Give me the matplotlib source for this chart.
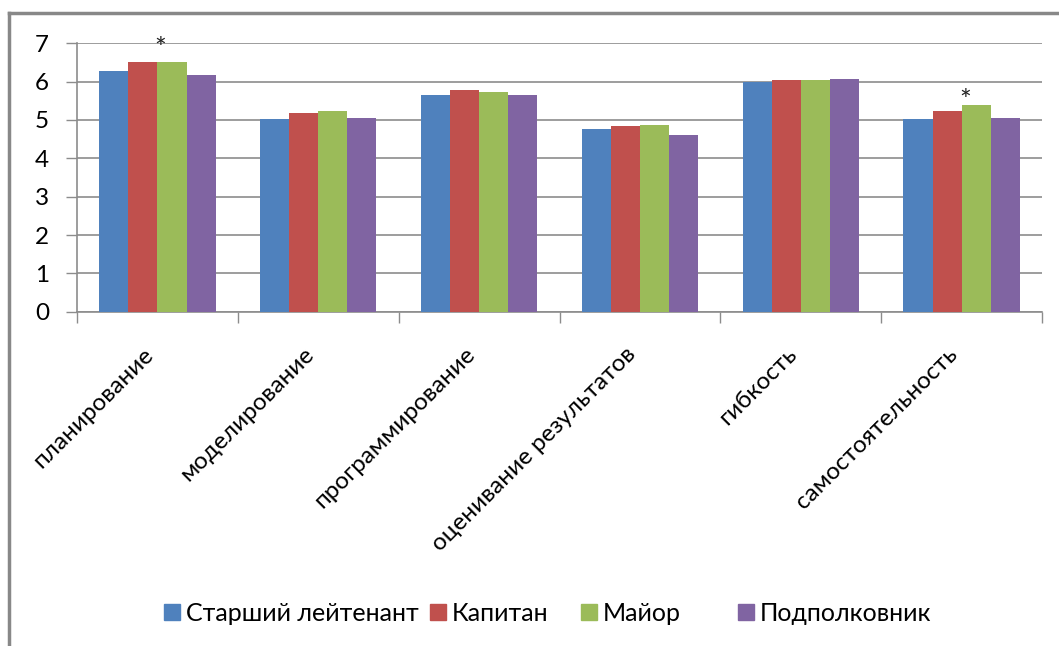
import matplotlib
matplotlib.use("Agg")
import matplotlib.pyplot as plt
from matplotlib.lines import Line2D
import numpy as np

# данные
categories = ['планирование', 'моделирование', 'программирование',
              'оценивание результатов', 'гибкость', 'самостоятельность']
series_names = ['Старший лейтенант', 'Капитан', 'Майор', 'Подполковник']
st_leitenant = [6.27, 5.03, 5.64, 4.77, 6.00, 5.03]
kapitan = [6.50, 5.17, 5.78, 4.84, 6.03, 5.23]
major = [6.50, 5.23, 5.74, 4.86, 6.03, 5.40]
podpolkovnik = [6.17, 5.06, 5.64, 4.60, 6.07, 5.06]
# звёздочки: (категория, серия, сдвиг по y)
stars = [(0, 2, 0.32), (5, 2, 0.07)]

colors = ['#4F81BD', '#C0504D', '#9BBB59', '#8064A2']
grid_color = '#8C8C8C'

plt.rcParams['font.family'] = ['Lato', 'DejaVu Sans']

fig = plt.figure(figsize=(10.59, 6.46), dpi=100)
ax = fig.add_axes([0.0727, 0.5175, 0.9113, 0.4155])

x = np.arange(len(categories))
width = 0.181
all_series = [st_leitenant, kapitan, major, podpolkovnik]
for i, vals in enumerate(all_series):
    ax.bar(x + (i - 1.5) * width, vals, width, color=colors[i],
           label=series_names[i], zorder=3)

for ci, si, dy in stars:
    bx = x[ci] + (si - 2) * width + 0.02
    ax.text(bx, all_series[si][ci] + dy, '*', ha='center', va='center',
            fontsize=20, color='#222222', zorder=4)

ax.set_xlim(-0.5, len(categories) - 0.5)
ax.set_ylim(0, 7)
ax.set_yticks(range(0, 8))
ax.yaxis.grid(True, color=grid_color, linewidth=1.2, zorder=0)

ax.set_xticks(x)
ax.set_xticklabels(categories, rotation=45, ha='right', va='top',
                   rotation_mode='default', fontsize=17.5)
ax.tick_params(axis='x', length=0, pad=23)
ax.set_xticks(np.arange(-0.5, len(categories)), minor=True)
ax.tick_params(axis='x', which='minor', length=8, color=grid_color, width=1)
ax.tick_params(axis='y', length=8, color=grid_color, width=1, pad=12,
               labelsize=17.5)

for s in ['top', 'right']:
    ax.spines[s].set_visible(False)
for s in ['left', 'bottom']:
    ax.spines[s].set_color(grid_color)
    ax.spines[s].set_linewidth(1.2)

# легенда: каждая запись на своём месте, как в Excel
legend_x = [162, 428, 579, 736]
for name, c, lx in zip(series_names, colors, legend_x):
    h = Line2D([], [], marker='s', linestyle='none', markersize=11, color=c)
    fig.legend([h], [name], loc='center left',
               bbox_to_anchor=(lx / 1059, 0.051), frameon=False,
               fontsize=18, handletextpad=0.15, handlelength=0.8,
               borderpad=0, borderaxespad=0)

# рамка диаграммы
fig.add_artist(Line2D([9 / 1059, 9 / 1059], [1 - 13 / 646, 0],
                      transform=fig.transFigure, color='#888888', linewidth=2.5))
fig.add_artist(Line2D([9 / 1059, 1], [1 - 13 / 646, 1 - 13 / 646],
                      transform=fig.transFigure, color='#888888', linewidth=2.5))

fig.savefig('out.png', dpi=100)
